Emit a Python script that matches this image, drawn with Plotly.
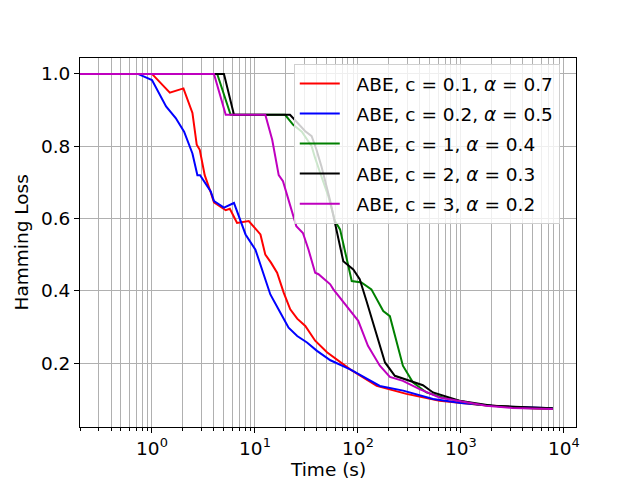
import plotly.graph_objects as go
import math

labels = ["\u00a0\u00a0ABE, c = 0.1, <i>α</i> = 0.7", "\u00a0\u00a0ABE, c = 0.2, <i>α</i> = 0.5",
          "\u00a0\u00a0ABE, c = 1, <i>α</i> = 0.4", "\u00a0\u00a0ABE, c = 2, <i>α</i> = 0.3",
          "\u00a0\u00a0ABE, c = 3, <i>α</i> = 0.2"]
colors = ["#ff0000", "#0000ff", "#008000", "#000000", "#bf00bf"]

red_x = [0.2, 1.0, 1.49, 2.02, 2.47, 2.72, 2.91, 3.25, 3.72, 4.0, 5.2, 5.7, 6.7, 8.7, 10.1, 11.3, 12.6, 14.3,
         16.4, 19.0, 22, 25.7, 30.8, 38.4, 50, 84, 152, 295, 620, 1500, 5000, 7800]
red_y = [1.0, 1.0, 0.948, 0.96, 0.892, 0.804, 0.79, 0.72, 0.672, 0.645, 0.623, 0.627, 0.588, 0.593, 0.572, 0.556,
         0.50, 0.478, 0.45, 0.395, 0.349, 0.323, 0.303, 0.262, 0.23, 0.183, 0.137, 0.115, 0.096, 0.085, 0.075, 0.073]

blue_x = [0.2, 0.73, 1.0, 1.37, 1.7, 2.05, 2.47, 2.76, 2.93, 3.3, 3.72, 4.0, 5.0, 6.25, 7.0, 8.1, 10.1, 11.8,
          14.1, 17.6, 21.2, 25.7, 32, 40, 54, 84, 163, 275, 535, 1000, 2500, 7800]
blue_y = [1.0, 1.0, 0.983, 0.91, 0.878, 0.84, 0.78, 0.72, 0.72, 0.698, 0.675, 0.648, 0.63, 0.643, 0.606, 0.556,
          0.514, 0.459, 0.39, 0.34, 0.298, 0.275, 0.257, 0.234, 0.208, 0.183, 0.137, 0.124, 0.101, 0.09, 0.08, 0.075]

green_x = [0.2, 4.3, 5.8, 19.6, 23.5, 28.5, 35.5, 38.2, 44.1, 51.5, 59.8, 67, 87, 108, 135, 176, 204, 245, 273,
           341, 462, 665, 1500, 4000, 7800]
green_y = [1.0, 1.0, 0.887, 0.887, 0.859, 0.84, 0.80, 0.769, 0.717, 0.662, 0.593, 0.57, 0.427, 0.423, 0.404, 0.344,
           0.33, 0.248, 0.193, 0.147, 0.119, 0.105, 0.085, 0.076, 0.074]

black_x = [0.2, 5.0, 6.25, 21.9, 30.6, 35.5, 39.5, 44.1, 53.5, 59.8, 72, 90, 104, 121, 146, 183, 228, 318, 427,
           535, 965, 2000, 7800]
black_y = [1.0, 1.0, 0.887, 0.887, 0.842, 0.828, 0.791, 0.745, 0.651, 0.589, 0.482, 0.459, 0.432, 0.372, 0.294,
           0.202, 0.165, 0.151, 0.139, 0.119, 0.096, 0.082, 0.075]

mag_x = [0.2, 4.0, 5.2, 12.6, 14.7, 17.0, 18.7, 21.2, 25.2, 29.2, 33, 38.4, 41.4, 53.8, 57.7, 100.6, 125, 163,
         204, 273, 396, 620, 965, 1750, 3160, 7800]
mag_y = [1.0, 1.0, 0.887, 0.887, 0.818, 0.72, 0.703, 0.652, 0.579, 0.56, 0.515, 0.45, 0.446, 0.418, 0.404, 0.317,
         0.248, 0.193, 0.162, 0.151, 0.128, 0.105, 0.096, 0.082, 0.076, 0.073]

series = [(red_x, red_y), (blue_x, blue_y), (green_x, green_y), (black_x, black_y), (mag_x, mag_y)]

x_ticks = [1, 10, 100, 1000, 10000]
x_ticktext = ["10<sup>0</sup>", "10<sup>1</sup>", "10<sup>2</sup>", "10<sup>3</sup>", "10<sup>4</sup>"]
y_ticks = [0.2, 0.4, 0.6, 0.8, 1.0]
y_ticktext = ["0.2", "0.4", "0.6", "0.8", "1.0"]
minor_vals = [k * 10 ** e for e in range(-1, 5) for k in range(2, 10)]
x_title = "Time (s)"
y_title = "Hamming Loss"

FONT = "DejaVu Sans"
FS = 18.5
fig = go.Figure()
for i, ((xs, ys), name, col) in enumerate(zip(series, labels, colors)):
    fig.add_trace(go.Scatter(x=xs, y=ys, mode="lines", name=name, legendgroup=str(i),
                             line=dict(color=col, width=2)))

grid = "#b0b0b0"
fig.update_layout(
    width=632, height=472,
    margin=dict(l=72, r=64, t=50, b=53, autoexpand=False),
    paper_bgcolor="white", plot_bgcolor="white",
    font=dict(family=FONT, size=FS, color="black"),
    showlegend=True,
    legend=dict(x=0.431, y=0.984, xanchor="left", yanchor="top",
                bgcolor="rgba(255,255,255,0.8)", bordercolor="#d0d0d0", borderwidth=1,
                font=dict(family=FONT, size=FS), itemwidth=40, tracegroupgap=3),
    xaxis=dict(type="log", range=[math.log10(0.2), 4.117], automargin=False,
               tickmode="array", tickvals=x_ticks, ticktext=x_ticktext,
               showgrid=True, gridcolor=grid, gridwidth=1,
               ticks="outside", ticklen=5, tickwidth=1, tickcolor="black",
               showline=True, linecolor="black", linewidth=1, mirror=True,
               zeroline=False, tickfont=dict(family=FONT, size=FS),
               minor=dict(tickmode="array", tickvals=minor_vals, ticks="outside", ticklen=3,
                          tickcolor="black", showgrid=True, gridcolor=grid, gridwidth=1)),
    yaxis=dict(range=[0.0234, 1.044], automargin=False,
               tickmode="array", tickvals=y_ticks, ticktext=y_ticktext,
               showgrid=True, gridcolor=grid, gridwidth=1,
               ticks="outside", ticklen=5, tickwidth=1, tickcolor="black",
               showline=True, linecolor="black", linewidth=1, mirror=True,
               zeroline=False, tickfont=dict(family=FONT, size=FS)),
    annotations=[
        dict(text=x_title, xref="paper", yref="paper", x=0.5, y=-0.1165, xanchor="center", yanchor="middle",
             showarrow=False, font=dict(family=FONT, size=FS)),
        dict(text=y_title, xref="paper", yref="paper", x=-0.117, y=0.5, xanchor="center", yanchor="middle",
             textangle=-90, showarrow=False, font=dict(family=FONT, size=FS)),
    ],
)

fig.write_html("out.html")
